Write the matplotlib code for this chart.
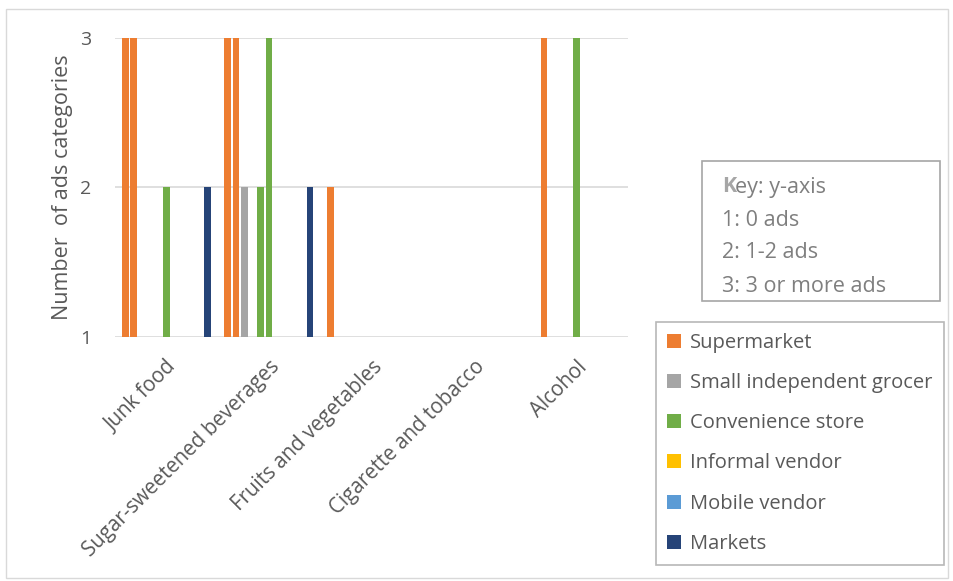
import numpy as np
import matplotlib
matplotlib.use("Agg")
import matplotlib.pyplot as plt
from matplotlib.patches import Patch, Rectangle

plt.rcParams['font.family'] = ['Open Sans', 'DejaVu Sans']

categories = ["Junk food", "Sugar-sweetened beverages", "Fruits and vegetables",
              "Cigarette and tobacco", "Alcohol"]

# 11 series (outlets), values on the 1-3 scale
series_names = ["Supermarket 1", "Supermarket 2", "Small independent grocer 1",
                "Small independent grocer 2", "Convenience store 1", "Convenience store 2",
                "Informal vendor 1", "Informal vendor 2", "Mobile vendor 1",
                "Mobile vendor 2", "Markets"]
series_types = ["Supermarket", "Supermarket", "Small independent grocer",
                "Small independent grocer", "Convenience store", "Convenience store",
                "Informal vendor", "Informal vendor", "Mobile vendor",
                "Mobile vendor", "Markets"]
values = [
    [3, 3, 2, 1, 1],
    [3, 3, 1, 1, 3],
    [1, 2, 1, 1, 1],
    [1, 1, 1, 1, 1],
    [1, 2, 1, 1, 1],
    [2, 3, 1, 1, 3],
    [1, 1, 1, 1, 1],
    [1, 1, 1, 1, 1],
    [1, 1, 1, 1, 1],
    [1, 1, 1, 1, 1],
    [2, 2, 1, 1, 1],
]

legend_labels = ["Supermarket", "Small independent grocer", "Convenience store",
                 "Informal vendor", "Mobile vendor", "Markets"]
colors = {"Supermarket": "#ED7D31", "Small independent grocer": "#A5A5A5",
          "Convenience store": "#70AD47", "Informal vendor": "#FFC000",
          "Mobile vendor": "#5B9BD5", "Markets": "#264478"}

key_lines = ["1: 0 ads", "2: 1-2 ads", "3: 3 or more ads"]

fig = plt.figure(figsize=(9.54, 5.81), dpi=100)
ax = fig.add_axes([115 / 954, 1 - 337 / 581, 513 / 954, 299 / 581])

n = len(series_names)
slot = 1 / (n + 1.5)
x = np.arange(len(categories))
for i, (name, typ, vals) in enumerate(zip(series_names, series_types, values)):
    v = np.array(vals, dtype=float)
    ax.bar(x + (i - (n - 1) / 2) * slot, v - 1, bottom=1, width=slot * 0.82,
           color=colors[typ], linewidth=0, label=name, zorder=3)

ax.set_xlim(-0.5, len(categories) - 0.5)
ax.set_ylim(1, 3)
ax.set_yticks([1, 2, 3])
ax.grid(axis='y', color='#d9d9d9', linewidth=1.2, zorder=0)
for s in ax.spines.values():
    s.set_visible(False)
ax.tick_params(length=0, labelsize=14, colors='#595959')
ax.tick_params(axis='y', pad=17)
ax.set_xticks(x)
ax.set_xticklabels(categories, rotation=45, ha='right', rotation_mode='anchor',
                   fontsize=14.8)
ax.tick_params(axis='x', pad=14)
ax.set_ylabel("Number  of ads categories", fontsize=15.5, color='#595959', labelpad=5)

# key box
fig.patches.append(Rectangle((702 / 954, 1 - 301 / 581), 238 / 954, 140 / 581,
                             transform=fig.transFigure, fill=False,
                             edgecolor='#a6a6a6', linewidth=1.2))
ky = 187
fs_key = 15.5
fig.text(722 / 954, 1 - ky / 581, "K", color='#a6a6a6', fontsize=fs_key,
         fontweight='bold', va='center')
fig.text(735 / 954, 1 - ky / 581, "ey: y-axis", color='#7f7f7f', fontsize=fs_key, va='center')
for j, line in enumerate(key_lines):
    fig.text(722 / 954, 1 - (ky + 33 * (j + 1)) / 581, line, color='#7f7f7f',
             fontsize=fs_key, va='center')

handles = [Patch(facecolor=colors[l], edgecolor='none') for l in legend_labels]
leg = fig.legend(handles, legend_labels, loc='upper left',
                 bbox_to_anchor=(656 / 954, 1 - 322 / 581), fontsize=14.5,
                 frameon=True, fancybox=False, edgecolor='#a6a6a6',
                 handlelength=0.7, handleheight=0.7, handletextpad=0.45,
                 labelspacing=1.0, borderpad=0.55, borderaxespad=0,
                 labelcolor='#595959')
leg.get_frame().set_linewidth(1.2)

# outer border
fig.patches.append(Rectangle((6 / 954, 3 / 581), 942 / 954, 569 / 581,
                             transform=fig.transFigure, fill=False,
                             edgecolor='#d9d9d9', linewidth=1))

fig.savefig("out.png", dpi=100)
